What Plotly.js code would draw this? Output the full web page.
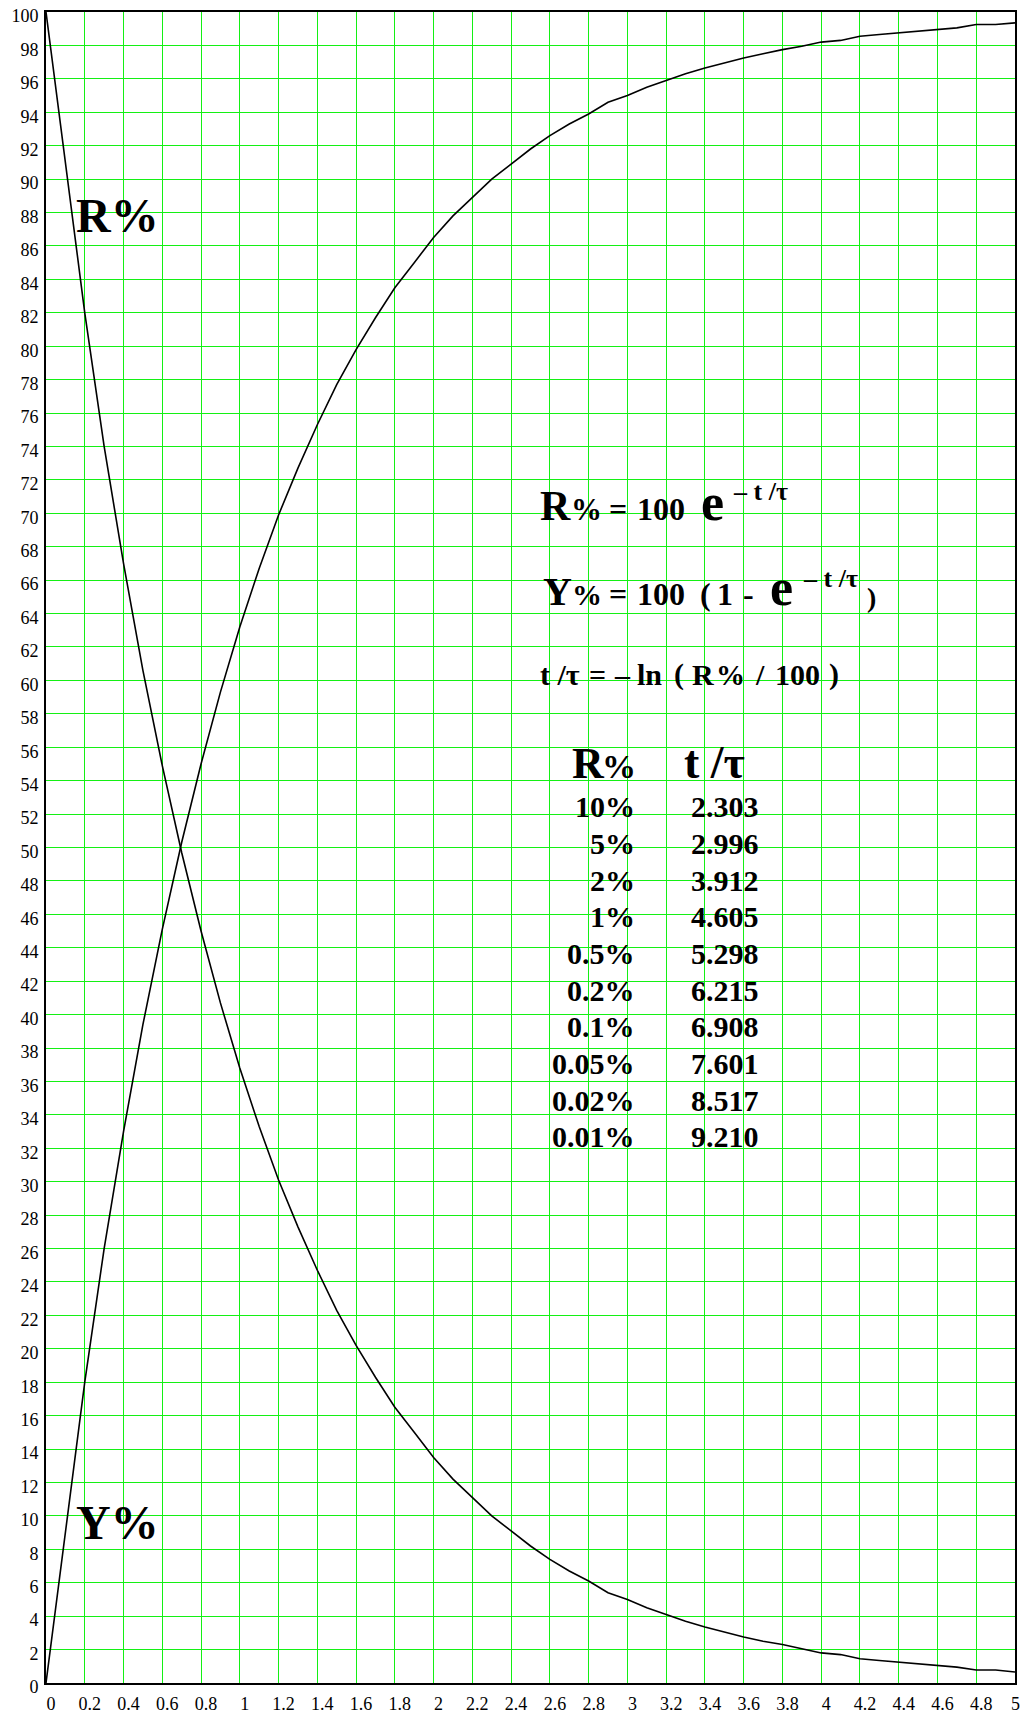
<!DOCTYPE html>
<html>
<head>
<meta charset="utf-8">
<script src="https://cdn.plot.ly/plotly-3.0.1.min.js"></script>
<style>
  html, body { margin: 0; padding: 0; background: #ffffff; }
  #chart { width: 1021px; height: 1713px; }
</style>
</head>
<body>
<div id="chart"></div>
<script>
// Time in units of the time constant (t / tau)
const tValues = [0, 0.2, 0.3, 0.4, 0.5, 0.6, 0.7, 0.8, 0.9, 1.0,
                 1.1, 1.2, 1.3, 1.4, 1.5, 1.6, 1.7, 1.8, 1.9, 2.0,
                 2.1, 2.2, 2.3, 2.4, 2.5, 2.6, 2.7, 2.8, 2.9, 3.0,
                 3.1, 3.2, 3.3, 3.4, 3.5, 3.6, 3.7, 3.8, 3.9, 4.0,
                 4.1, 4.2, 4.3, 4.4, 4.5, 4.6, 4.7, 4.8, 4.9, 5.0];

// Remaining fraction R% (decay)
const rPercent = [100, 82, 74, 67, 60.6, 54.9, 49.7, 45, 40.7, 36.8,
                  33.3, 30.1, 27.3, 24.7, 22.3, 20.2, 18.3, 16.5, 15, 13.5,
                  12.2, 11.1, 10, 9.1, 8.2, 7.4, 6.7, 6.1, 5.4, 5.0,
                  4.5, 4.1, 3.7, 3.35, 3.05, 2.75, 2.5, 2.3, 2.05, 1.8,
                  1.7, 1.45, 1.35, 1.25, 1.15, 1.05, 0.95, 0.78, 0.78, 0.66];

// Accumulated fraction Y% (growth)
const yPercent = [0, 18, 26, 33, 39.4, 45.1, 50.3, 55, 59.3, 63.2,
                  66.7, 69.9, 72.7, 75.3, 77.7, 79.8, 81.7, 83.5, 85, 86.5,
                  87.8, 88.9, 90, 90.9, 91.8, 92.6, 93.3, 93.9, 94.6, 95.0,
                  95.5, 95.9, 96.3, 96.65, 96.95, 97.25, 97.5, 97.75, 97.95, 98.2,
                  98.3, 98.55, 98.65, 98.75, 98.85, 98.95, 99.05, 99.25, 99.25, 99.35];

// Axis ticks (the last x label carries padding so it stays inside the page)
const xTickVals = [0, 0.2, 0.4, 0.6, 0.8, 1, 1.2, 1.4, 1.6, 1.8, 2, 2.2, 2.4, 2.6, 2.8,
                   3, 3.2, 3.4, 3.6, 3.8, 4, 4.2, 4.4, 4.6, 4.8, 5];
const xTickText = ['0', '0.2', '0.4', '0.6', '0.8', '1', '1.2', '1.4', '1.6', '1.8', '2',
                   '2.2', '2.4', '2.6', '2.8', '3', '3.2', '3.4', '3.6', '3.8', '4',
                   '4.2', '4.4', '4.6', '4.8', '5\u00A0\u00A0'];
const yTickVals = [0, 2, 4, 6, 8, 10, 12, 14, 16, 18, 20, 22, 24, 26, 28, 30, 32, 34, 36, 38,
                   40, 42, 44, 46, 48, 50, 52, 54, 56, 58, 60, 62, 64, 66, 68, 70, 72, 74, 76,
                   78, 80, 82, 84, 86, 88, 90, 92, 94, 96, 98, 100];
const yTickText = ['0', '2', '4', '6', '8', '10', '12', '14', '16', '18', '20', '22', '24', '26',
                   '28', '30', '32', '34', '36', '38', '40', '42', '44', '46', '48', '50', '52',
                   '54', '56', '58', '60', '62', '64', '66', '68', '70', '72', '74', '76', '78',
                   '80', '82', '84', '86', '88', '90', '92', '94', '96', '98', '100'];

// Reference table: remaining percentage and the matching t / tau
const tableRemaining = ['10%', '5%', '2%', '1%', '0.5%', '0.2%', '0.1%', '0.05%', '0.02%', '0.01%'];
const tableTime = ['2.303', '2.996', '3.912', '4.605', '5.298', '6.215', '6.908', '7.601', '8.517', '9.210'];

const SERIF = 'Liberation Serif, Times New Roman, serif';
const W = 1021, H = 1713;
const M = { l: 46, r: 6, t: 12, b: 30 };
const PW = W - M.l - M.r, PH = H - M.t - M.b;
const DESCENT = 0.216;

// Place a bold text run by its pixel left/right edge and baseline
function word(text, px, baseline, size, anchor) {
  return {
    text: text,
    xref: 'paper', yref: 'paper',
    x: (px - M.l) / PW,
    y: (H - M.b - (baseline + DESCENT * size)) / PH,
    xanchor: anchor || 'left', yanchor: 'bottom',
    showarrow: false, borderpad: 0, borderwidth: 0,
    font: { family: SERIF, size: size, color: '#000000', weight: 'bold' }
  };
}

const notes = [];
// curve labels
notes.push(word('R%', 76, 232, 48));
notes.push(word('Y%', 76, 1539, 48));

// R% = 100 e^(-t/tau)
notes.push(word('R', 540, 520, 42));
notes.push(word('%', 571, 520, 31));
notes.push(word('=', 609, 520, 32));
notes.push(word('100', 637, 520, 32));
notes.push(word('e', 701, 520, 52));
notes.push(word('\u2013 t /\u03C4', 733, 500, 26));

// Y% = 100 (1 - e^(-t/tau))
notes.push(word('Y', 543, 605, 40));
notes.push(word('%', 572, 605, 30));
notes.push(word('=', 609, 605, 32));
notes.push(word('100', 637, 605, 32));
notes.push(word('(', 700, 605, 32));
notes.push(word('1', 717, 605, 32));
notes.push(word('-', 743, 605, 32));
notes.push(word('e', 770, 605, 52));
notes.push(word('\u2013 t /\u03C4', 803, 587, 26));
notes.push(word(')', 867, 607, 28));

// t/tau = -ln(R%/100)
notes.push(word('t /\u03C4', 540, 685, 30));
notes.push(word('=', 589, 685, 30));
notes.push(word('\u2013', 614, 685, 30));
notes.push(word('ln', 637, 685, 30));
notes.push(word('(', 674, 685, 30));
notes.push(word('R', 692, 685, 30));
notes.push(word('%', 716, 685, 29));
notes.push(word('/', 755, 685, 30));
notes.push(word('100', 775, 685, 30));
notes.push(word(')', 829, 685, 30));

// table header
notes.push(word('R', 572, 778, 44));
notes.push(word('%', 602, 778, 34));
notes.push(word('t /\u03C4', 684, 778, 46));

// table rows
const rowTop = 816.7, rowStep = 36.67;
tableRemaining.forEach(function (r, i) {
  notes.push(word(r, 635, rowTop + i * rowStep, 30, 'right'));
  notes.push(word(tableTime[i], 691, rowTop + i * rowStep, 30, 'left'));
});

const curveLine = { color: '#000000', width: 1.6 };
const traces = [
  { x: tValues, y: rPercent, type: 'scatter', mode: 'lines', line: curveLine,
    hoverinfo: 'skip', showlegend: false },
  { x: tValues, y: yPercent, type: 'scatter', mode: 'lines', line: curveLine,
    hoverinfo: 'skip', showlegend: false }
];

const GRID = '#14f014';
const tickFont = { family: SERIF, size: 18, color: '#000000' };

const layout = {
  width: W, height: H,
  margin: M,
  paper_bgcolor: '#ffffff', plot_bgcolor: '#ffffff',
  showlegend: false,
  xaxis: {
    range: [0, 5], tickmode: 'array', tickvals: xTickVals, ticktext: xTickText,
    showgrid: true, gridcolor: GRID, gridwidth: 1, zeroline: false,
    showline: true, mirror: true, linecolor: '#000000', linewidth: 2,
    ticks: '', tickfont: tickFont, ticklabelshift: 5, ticklabelstandoff: 3,
    ticklabeloverflow: 'allow', fixedrange: true
  },
  yaxis: {
    range: [0, 100], tickmode: 'array', tickvals: yTickVals, ticktext: yTickText,
    showgrid: true, gridcolor: GRID, gridwidth: 1, zeroline: false,
    showline: true, mirror: true, linecolor: '#000000', linewidth: 2,
    ticks: '', tickfont: tickFont, ticklabelshift: 4, ticklabelstandoff: 2,
    ticklabeloverflow: 'allow', fixedrange: true
  },
  annotations: notes
};

Plotly.newPlot('chart', traces, layout, { staticPlot: true, displayModeBar: false });
</script>
</body>
</html>
